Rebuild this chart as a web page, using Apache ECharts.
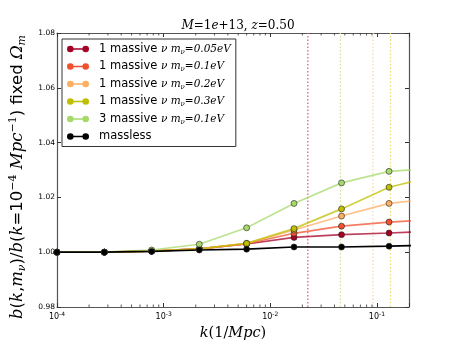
<!DOCTYPE html>
<html>
<head>
<meta charset="utf-8">
<script src="https://cdn.jsdelivr.net/npm/echarts@6/dist/echarts.min.js"></script>
<style>
html, body { margin: 0; padding: 0; background: #fff; }
#chart { width: 455px; height: 341px; }
</style>
</head>
<body>
<div id="chart"></div>
<script>
// k values (1/Mpc) of the sampled points; last one sits past the right edge
var kValues = [1e-4, 2.78e-4, 7.72e-4, 2.16e-3, 6.0e-3, 1.67e-2, 4.66e-2, 0.130, 0.36];

var m005 = [1.000, 1.000, 1.0004, 1.0012, 1.0030, 1.0054, 1.0064, 1.0070, 1.0077];
var m01 = [1.000, 1.000, 1.0004, 1.0012, 1.0031, 1.0069, 1.0095, 1.0110, 1.0120];
var m02 = [1.000, 1.000, 1.0004, 1.0012, 1.0032, 1.0081, 1.0132, 1.0178, 1.0197];
var m03 = [1.000, 1.000, 1.0004, 1.0012, 1.0032, 1.0086, 1.0158, 1.0237, 1.0280];
var m3x01 = [1.000, 1.000, 1.0008, 1.0029, 1.0089, 1.0178, 1.0253, 1.0295, 1.0307];
var massless = [1.000, 1.000, 1.0003, 1.0008, 1.0011, 1.0019, 1.0019, 1.0022, 1.0027];

var seriesNames = ['m005', 'm01', 'm02', 'm03', 'm3x01', 'massless'];
var legendTexts = [
    '1 massive {m|ν m}{s|ν}{m|=0.05eV}',
    '1 massive {m|ν m}{s|ν}{m|=0.1eV}',
    '1 massive {m|ν m}{s|ν}{m|=0.2eV}',
    '1 massive {m|ν m}{s|ν}{m|=0.3eV}',
    '3 massive {m|ν m}{s|ν}{m|=0.1eV}',
    'massless'
];
var colors = ['#a50026', '#f0502e', '#fdae61', '#bfbf00', '#a6d96a', '#000000'];

// vertical dotted marker lines
var vlineK = [0.0225, 0.0455, 0.092, 0.134];
var vlineColors = ['#e0507a', '#dcdc9a', '#fad6a8', '#e6dc70'];

var yTicks = [0.98, 1.00, 1.02, 1.04, 1.06, 1.08];
var minorK = [2e-4, 3e-4, 4e-4, 5e-4, 6e-4, 7e-4, 8e-4, 9e-4,
              2e-3, 3e-3, 4e-3, 5e-3, 6e-3, 7e-3, 8e-3, 9e-3,
              2e-2, 3e-2, 4e-2, 5e-2, 6e-2, 7e-2, 8e-2, 9e-2];

var allValues = [m005, m01, m02, m03, m3x01, massless];

function buildSeries(){
    var list = [];
    // dotted vertical lines first, under the curves
    for(var v = 0 ; v < vlineK.length ; v ++){
        list.push({
            type: 'line',
            data: [[vlineK[v], yTicks[0]], [vlineK[v], yTicks[yTicks.length - 1]]],
            symbol: 'none',
            silent: true,
            lineStyle: { color: vlineColors[v], type: [1.5, 2], width: 1.2 },
            animation: false,
            z: 1
        });
    }
    for(var i = 0 ; i < seriesNames.length ; i ++){
        var pts = [];
        for(var j = 0 ; j < kValues.length ; j ++){
            pts.push([kValues[j], allValues[i][j]]);
        }
        list.push({
            name: seriesNames[i],
            type: 'line',
            data: pts,
            symbol: 'circle',
            symbolSize: 6,
            color: colors[i],
            lineStyle: { width: 1.7, opacity: i == 5 ? 1 : 0.75 },
            itemStyle: { color: colors[i], borderColor: '#222', borderWidth: 0.6 },
            emphasis: { disabled: true },
            animation: false,
            z: 3
        });
    }
    // minor log ticks on bottom and top edges
    list.push({
        type: 'custom',
        silent: true,
        animation: false,
        data: minorK,
        encode: { x: 0 },
        renderItem: function(params, api){
            var x = api.coord([api.value(0), 1.0])[0];
            var yb = params.coordSys.y + params.coordSys.height;
            var yt = params.coordSys.y;
            return {
                type: 'group',
                children: [
                    { type: 'line', shape: { x1: x, y1: yb, x2: x, y2: yb - 2.5 }, style: { stroke: '#333', lineWidth: 0.8 } },
                    { type: 'line', shape: { x1: x, y1: yt, x2: x, y2: yt + 2.5 }, style: { stroke: '#333', lineWidth: 0.8 } }
                ]
            };
        },
        z: 5
    });
    return list;
}

function init(){
    var chart = echarts.init(document.getElementById('chart'), null, { renderer: 'canvas' });
    var axisLine = { show: true, lineStyle: { color: '#555', width: 1.2 } };
    var option = {
        backgroundColor: '#fff',
        animation: false,
        title: {
            text: '{i|M}=1{i|e}+13, {i|z}=0.50',
            left: 233,
            textAlign: 'center',
            top: 15,
            textStyle: {
                fontFamily: 'DejaVu Serif',
                fontSize: 12,
                fontWeight: 'normal',
                color: '#000',
                rich: { i: { fontFamily: 'DejaVu Serif', fontStyle: 'italic', fontSize: 12 } }
            }
        },
        grid: { left: 57, right: 46, top: 33, bottom: 34, containLabel: false, outerBoundsMode: 'none' },
        legend: {
            left: 62,
            top: 39,
            orient: 'vertical',
            padding: [4, 5, 4, 5],
            itemGap: 5,
            itemWidth: 22,
            itemHeight: 7,
            borderColor: '#333',
            borderWidth: 1,
            backgroundColor: '#fff',
            icon: 'path://M3.3,0A3.3,3.3 0 1,1 3.3,6.6A3.3,3.3 0 1,1 3.3,0ZM18.7,0A3.3,3.3 0 1,1 18.7,6.6A3.3,3.3 0 1,1 18.7,0ZM3.3,2.55L18.7,2.55L18.7,4.05L3.3,4.05Z',
            itemStyle: { borderWidth: 0 },
            data: seriesNames,
            formatter: function(name){
                return legendTexts[seriesNames.indexOf(name)];
            },
            textStyle: {
                fontFamily: 'DejaVu Sans',
                fontSize: 11.5,
                color: '#000',
                padding: [0, 0, 0, 5],
                rich: {
                    m: { fontFamily: 'DejaVu Serif', fontStyle: 'italic', fontSize: 10.5 },
                    s: { fontFamily: 'DejaVu Serif', fontStyle: 'italic', fontSize: 7, padding: [6, 0, 0, 0] }
                }
            }
        },
        xAxis: [{
            type: 'log',
            logBase: 10,
            min: 1e-4,
            max: 0.2,
            name: '{i|k}(1/{i|Mpc})',
            nameLocation: 'middle',
            nameGap: 17,
            nameTextStyle: {
                fontFamily: 'DejaVu Serif',
                fontSize: 14.5,
                color: '#000',
                rich: { i: { fontFamily: 'DejaVu Serif', fontStyle: 'italic', fontSize: 14.5 } }
            },
            axisLine: axisLine,
            axisTick: { show: true, inside: true, length: 4, lineStyle: { color: '#333' } },
            splitLine: { show: false },
            axisLabel: {
                margin: 4,
                fontFamily: 'DejaVu Sans',
                fontSize: 8,
                color: '#000',
                formatter: function(v){
                    var e = Math.log(v) / Math.LN10;
                    var r = Math.round(e);
                    if(Math.abs(e - r) > 1e-6) return '';
                    return '10{sup|' + r + '}';
                },
                rich: { sup: { fontSize: 6, fontFamily: 'DejaVu Sans', padding: [0, 0, 6, 0] } }
            }
        }, {
            type: 'log',
            logBase: 10,
            min: 1e-4,
            max: 0.2,
            position: 'top',
            axisLine: axisLine,
            axisTick: { show: true, inside: true, length: 4, lineStyle: { color: '#333' } },
            axisLabel: { show: false },
            splitLine: { show: false }
        }],
        yAxis: [{
            type: 'value',
            min: yTicks[0],
            max: yTicks[yTicks.length - 1],
            interval: 0.02,
            name: '{i|b}({i|k},{i|m}{s|ν})/{i|b}({i|k}=10{p|−4} {i|Mpc}{p|−1}) fixed {i|Ω}{s|m}',
            nameLocation: 'middle',
            nameRotate: 90,
            nameGap: 22,
            nameTextStyle: {
                fontFamily: 'DejaVu Sans',
                fontSize: 16.5,
                color: '#000',
                padding: [0, 14, 0, 0],
                rich: {
                    i: { fontFamily: 'DejaVu Serif', fontStyle: 'italic', fontSize: 16.5 },
                    s: { fontFamily: 'DejaVu Serif', fontStyle: 'italic', fontSize: 11, padding: [8, 0, 0, 0] },
                    p: { fontFamily: 'DejaVu Serif', fontSize: 11, padding: [0, 0, 9, 0] }
                }
            },
            axisLine: axisLine,
            axisTick: { show: true, inside: true, length: 4, lineStyle: { color: '#333' } },
            splitLine: { show: false },
            axisLabel: {
                margin: 2,
                fontFamily: 'DejaVu Sans',
                fontSize: 7.5,
                color: '#000',
                formatter: function(v){ return v.toFixed(2); }
            }
        }, {
            type: 'value',
            min: yTicks[0],
            max: yTicks[yTicks.length - 1],
            interval: 0.02,
            position: 'right',
            axisLine: axisLine,
            axisTick: { show: true, inside: true, length: 4, lineStyle: { color: '#333' } },
            axisLabel: { show: false },
            splitLine: { show: false }
        }],
        series: buildSeries()
    };
    chart.setOption(option);
}

init();
</script>
</body>
</html>
